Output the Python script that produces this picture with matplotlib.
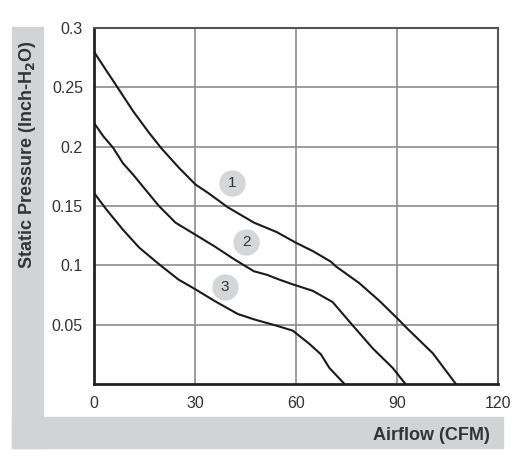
import matplotlib
matplotlib.use('Agg')
import matplotlib.pyplot as plt
from matplotlib.patches import Rectangle

plt.rcParams['font.family'] = ['Liberation Sans', 'DejaVu Sans']

# fan curves, airflow (CFM) vs static pressure (inch H2O)
FLOW_1 = [0, 3.7, 7.2, 11.6, 16, 19.9, 25.3, 30.2, 33.9, 39.7, 47.5, 54.3,
          60, 65, 70.4, 71.9, 78.8, 84.8, 90.2, 92.6, 100.6, 107.5]
PRES_1 = [0.280, 0.264, 0.249, 0.230, 0.213, 0.199, 0.182, 0.168, 0.161,
          0.149, 0.136, 0.128, 0.119, 0.112, 0.103, 0.099, 0.085, 0.070,
          0.055, 0.048, 0.026, 0.0]

FLOW_2 = [0, 2.7, 5.7, 8.6, 11.6, 15.5, 19.3, 24.2, 30, 35.8, 41.7, 47.5,
          51.4, 55, 59, 65, 70.9, 76.8, 82.8, 88.7, 92.5]
PRES_2 = [0.220, 0.209, 0.199, 0.186, 0.1765, 0.163, 0.150, 0.136, 0.126,
          0.116, 0.105, 0.095, 0.092, 0.088, 0.084, 0.0785, 0.069, 0.0495,
          0.030, 0.0136, 0.0]

FLOW_3 = [0, 3.7, 8.6, 13.4, 19.3, 25.1, 30, 35.8, 42.7, 47.5, 54.4, 59,
          63.9, 67.4, 69.9, 74.4]
PRES_3 = [0.161, 0.147, 0.130, 0.115, 0.101, 0.088, 0.080, 0.070, 0.059,
          0.0545, 0.049, 0.045, 0.034, 0.025, 0.0136, 0.0]

CURVE_LABELS = ['1', '2', '3']
LABEL_X = [40.9, 45.2, 38.9]
LABEL_Y = [0.169, 0.120, 0.082]

X_TICKS = [0, 30, 60, 90, 120]
Y_TICKS = [0.05, 0.1, 0.15, 0.2, 0.25, 0.3]
Y_TICK_LABELS = ['0.05', '0.1', '0.15', '0.2', '0.25', '0.3']

W, H = 519, 462
BAND = '#d1d3d4'
TEXT = '#333333'

fig = plt.figure(figsize=(W / 100, H / 100), dpi=100)

# grey frame bands at left and bottom
fig.patches.append(Rectangle((12 / W, 14 / H), 31 / W, 421 / H,
                             transform=fig.transFigure, color=BAND, zorder=0))
fig.patches.append(Rectangle((12 / W, 14 / H), 491 / W, 31 / H,
                             transform=fig.transFigure, color=BAND, zorder=0))

ax = fig.add_axes([94 / W, 78 / H, 404 / W, 356 / H])

for flow, pres in [(FLOW_1, PRES_1), (FLOW_2, PRES_2), (FLOW_3, PRES_3)]:
    ax.plot(flow, pres, color='#1a1a1a', lw=1.5, zorder=3,
            solid_joinstyle='round')

for lab, x, y in zip(CURVE_LABELS, LABEL_X, LABEL_Y):
    ax.plot(x, y, 'o', ms=19, color='#d5d6d8', mec='none', zorder=4)
    ax.text(x, y, lab, ha='center', va='center', fontsize=11,
            color=TEXT, zorder=5)

ax.set_xlim(0, 120)
ax.set_ylim(0, 0.3)
ax.set_xticks(X_TICKS)
ax.set_yticks(Y_TICKS)
ax.set_yticklabels(Y_TICK_LABELS)
ax.tick_params(length=0, labelsize=11.5, labelcolor=TEXT)
ax.tick_params(axis='y', pad=8)
ax.tick_params(axis='x', pad=9)
ax.grid(True, color='#8c8c8c', lw=1.2)
ax.set_axisbelow(True)
for side in ['top', 'right']:
    ax.spines[side].set_color('#555555')
    ax.spines[side].set_linewidth(1.5)
for side in ['left', 'bottom']:
    ax.spines[side].set_color('#222222')
    ax.spines[side].set_linewidth(2)

fig.text(28 / W, 1 - 155 / H, 'Static Pressure (Inch-H$_\\mathbf{2}$O)',
         rotation=90, ha='center', va='center', fontsize=13,
         fontweight='bold', color=TEXT)
fig.text(490 / W, 1 - 435 / H, 'Airflow (CFM)', ha='right', va='center',
         fontsize=13, fontweight='bold', color=TEXT)

fig.savefig('out.png', dpi=100)
